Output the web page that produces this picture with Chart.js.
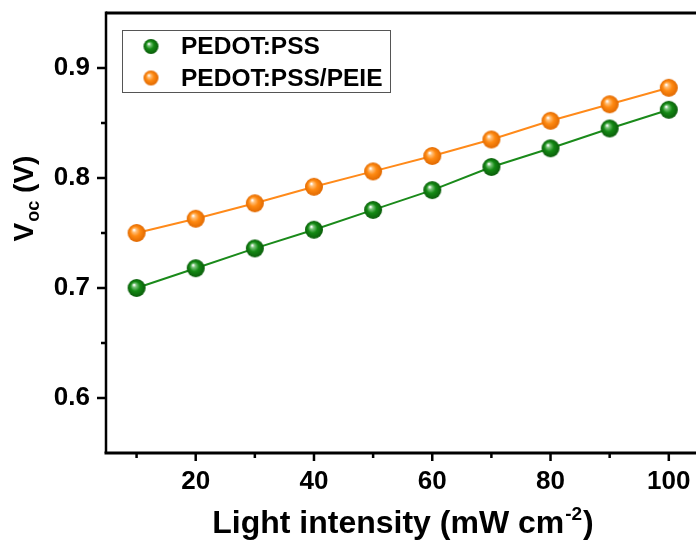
<!DOCTYPE html>
<html>
<head>
<meta charset="utf-8">
<script src="https://cdn.jsdelivr.net/npm/chart.js@4/dist/chart.umd.min.js"></script>
<style>
  html, body { margin: 0; padding: 0; background: #fff; overflow: hidden; }
  #wrap { width: 696px; height: 543px; position: relative; }
</style>
</head>
<body>
<div id="wrap"><canvas id="vocChart"></canvas></div>
<script>
// light intensity (mW cm-2)
const intensity = [10, 20, 30, 40, 50, 60, 70, 80, 90, 100];
// Voc (V)
const vocPedot = [0.700, 0.718, 0.736, 0.753, 0.771, 0.789, 0.810, 0.827, 0.845, 0.862];
const vocPeie = [0.750, 0.763, 0.777, 0.792, 0.806, 0.820, 0.835, 0.852, 0.867, 0.882];

const seriesNames = ['PEDOT:PSS', 'PEDOT:PSS/PEIE'];
const xMajor = [20, 40, 60, 80, 100];
const xMinor = [10, 30, 50, 70, 90];
const yMajor = [0.6, 0.7, 0.8, 0.9];
const yMinor = [0.65, 0.75, 0.85];

// little shaded balls like the origin plot markers
function makeBall(r, light, main, dark) {
    const c = document.createElement('canvas');
    const s = Math.ceil(r * 2 + 2);
    c.width = s; c.height = s;
    const g = c.getContext('2d');
    const cx = s / 2, cy = s / 2;
    const grad = g.createRadialGradient(cx - r * 0.3, cy - r * 0.35, r * 0.05, cx, cy, r);
    grad.addColorStop(0, '#ffffff');
    grad.addColorStop(0.18, light);
    grad.addColorStop(0.5, main);
    grad.addColorStop(1, dark);
    g.fillStyle = grad;
    g.beginPath();
    g.arc(cx, cy, r, 0, Math.PI * 2);
    g.fill();
    return c;
}

const greenBall = makeBall(9, '#7cc47c', '#148a14', '#0a5c0a');
const orangeBall = makeBall(9, '#ffc07a', '#ff8a12', '#e06800');
const greenSmall = makeBall(7.5, '#7cc47c', '#148a14', '#0a5c0a');
const orangeSmall = makeBall(7.5, '#ffc07a', '#ff8a12', '#e06800');

function toPoints(xs, ys) {
    return xs.map((x, i) => ({ x: x, y: ys[i] }));
}

function noPad(s) {
    s.paddingTop = 0; s.paddingBottom = 0; s.paddingLeft = 0; s.paddingRight = 0;
}

const frame = {
    id: 'frame',
    afterDraw(chart) {
        const ctx = chart.ctx;
        const a = chart.chartArea;
        const xs = chart.scales.x, ys = chart.scales.y;
        ctx.save();
        ctx.strokeStyle = '#000';
        ctx.lineCap = 'butt';
        // axes box (left, bottom, top)
        ctx.lineWidth = 3;
        ctx.beginPath();
        ctx.moveTo(a.left, a.top); ctx.lineTo(a.right, a.top);
        ctx.moveTo(a.left - 1.5, a.bottom); ctx.lineTo(a.right, a.bottom);
        ctx.stroke();
        ctx.lineWidth = 2.5;
        ctx.beginPath();
        ctx.moveTo(a.left, a.top - 1.5); ctx.lineTo(a.left, a.bottom);
        ctx.stroke();
        // ticks
        ctx.lineWidth = 2.5;
        ctx.beginPath();
        xMajor.forEach(v => { const p = xs.getPixelForValue(v); ctx.moveTo(p, a.bottom); ctx.lineTo(p, a.bottom + 8); });
        xMinor.forEach(v => { const p = xs.getPixelForValue(v); ctx.moveTo(p, a.bottom); ctx.lineTo(p, a.bottom + 5); });
        yMajor.forEach(v => { const p = ys.getPixelForValue(v); ctx.moveTo(a.left, p); ctx.lineTo(a.left - 9, p); });
        yMinor.forEach(v => { const p = ys.getPixelForValue(v); ctx.moveTo(a.left, p); ctx.lineTo(a.left - 5, p); });
        ctx.stroke();

        // legend box
        ctx.lineWidth = 1;
        ctx.strokeStyle = '#555';
        ctx.strokeRect(122.5, 30.5, 268, 62);
        const balls = [greenSmall, orangeSmall];
        const rows = [46.5, 78];
        ctx.font = 'bold 24.5px "Liberation Sans", Arial, sans-serif';
        ctx.fillStyle = '#000';
        ctx.textBaseline = 'middle';
        ctx.textAlign = 'left';
        seriesNames.forEach((n, i) => {
            const b = balls[i];
            ctx.drawImage(b, 151 - b.width / 2, rows[i] - b.height / 2);
            ctx.fillText(n, 181, rows[i] + 1);
        });

        // x title with superscript
        const big = 'bold 32px "Liberation Sans", Arial, sans-serif';
        const sup = 'bold 19px "Liberation Sans", Arial, sans-serif';
        const t1 = 'Light intensity (mW cm', t2 = '-2', t3 = ')';
        ctx.textBaseline = 'alphabetic';
        ctx.font = big; const w1 = ctx.measureText(t1).width, w3 = ctx.measureText(t3).width;
        ctx.font = sup; const w2 = ctx.measureText(t2).width;
        let x0 = 402 - (w1 + w2 + w3) / 2;
        const base = 533;
        ctx.font = big; ctx.fillText(t1, x0, base);
        ctx.font = sup; ctx.fillText(t2, x0 + w1 + 1, base - 13);
        ctx.font = big; ctx.fillText(t3, x0 + w1 + w2 + 2, base);

        // y title V_oc (V), rotated
        ctx.translate(33, 199);
        ctx.rotate(-Math.PI / 2);
        const yb = 'bold 28px "Liberation Sans", Arial, sans-serif';
        const ysub = 'bold 18px "Liberation Sans", Arial, sans-serif';
        ctx.font = yb; const v1 = ctx.measureText('V').width, v3 = ctx.measureText(' (V)').width;
        ctx.font = ysub; const v2 = ctx.measureText('oc').width;
        let s0 = -(v1 + v2 + v3) / 2;
        ctx.font = yb; ctx.fillText('V', s0, 0);
        ctx.font = ysub; ctx.fillText('oc', s0 + v1 + 1, 6);
        ctx.font = yb; ctx.fillText(' (V)', s0 + v1 + v2 + 1, 0);
        ctx.restore();
    }
};

const data = {
    datasets: [{
        label: seriesNames[0],
        data: toPoints(intensity, vocPedot),
        borderColor: '#1a8a1a',
        borderWidth: 2,
        pointStyle: greenBall,
        showLine: true,
        tension: 0
    }, {
        label: seriesNames[1],
        data: toPoints(intensity, vocPeie),
        borderColor: '#ff8a1a',
        borderWidth: 2,
        pointStyle: orangeBall,
        showLine: true,
        tension: 0
    }]
};

const tickFont = { family: '"Liberation Sans", Arial, sans-serif', size: 26, weight: 'bold' };

const config = {
    type: 'scatter',
    data: data,
    options: {
        responsive: true,
        maintainAspectRatio: false,
        animation: false,
        clip: false,
        layout: { autoPadding: false, padding: { top: 13, right: 0, left: 0, bottom: 0 } },
        plugins: { legend: { display: false }, tooltip: { enabled: false } },
        scales: {
            x: {
                type: 'linear',
                min: 4.83,
                max: 104.6,
                afterBuildTicks: (s) => { s.ticks = xMajor.map(v => ({ value: v })); },
                afterFit: (s) => { s.height = 90; noPad(s); },
                grid: { display: false, drawTicks: false },
                border: { display: false },
                ticks: { color: '#000', font: tickFont, padding: 13, maxRotation: 0 }
            },
            y: {
                type: 'linear',
                min: 0.55,
                max: 0.95,
                afterBuildTicks: (s) => { s.ticks = yMajor.map(v => ({ value: v })); },
                afterFit: (s) => { s.width = 106; noPad(s); },
                grid: { display: false, drawTicks: false },
                border: { display: false },
                ticks: { color: '#000', font: tickFont, padding: 16, callback: (v) => v.toFixed(1) }
            }
        }
    },
    plugins: [frame]
};

let ctx = document.getElementById('vocChart').getContext('2d');
new Chart(ctx, config);
</script>
</body>
</html>
